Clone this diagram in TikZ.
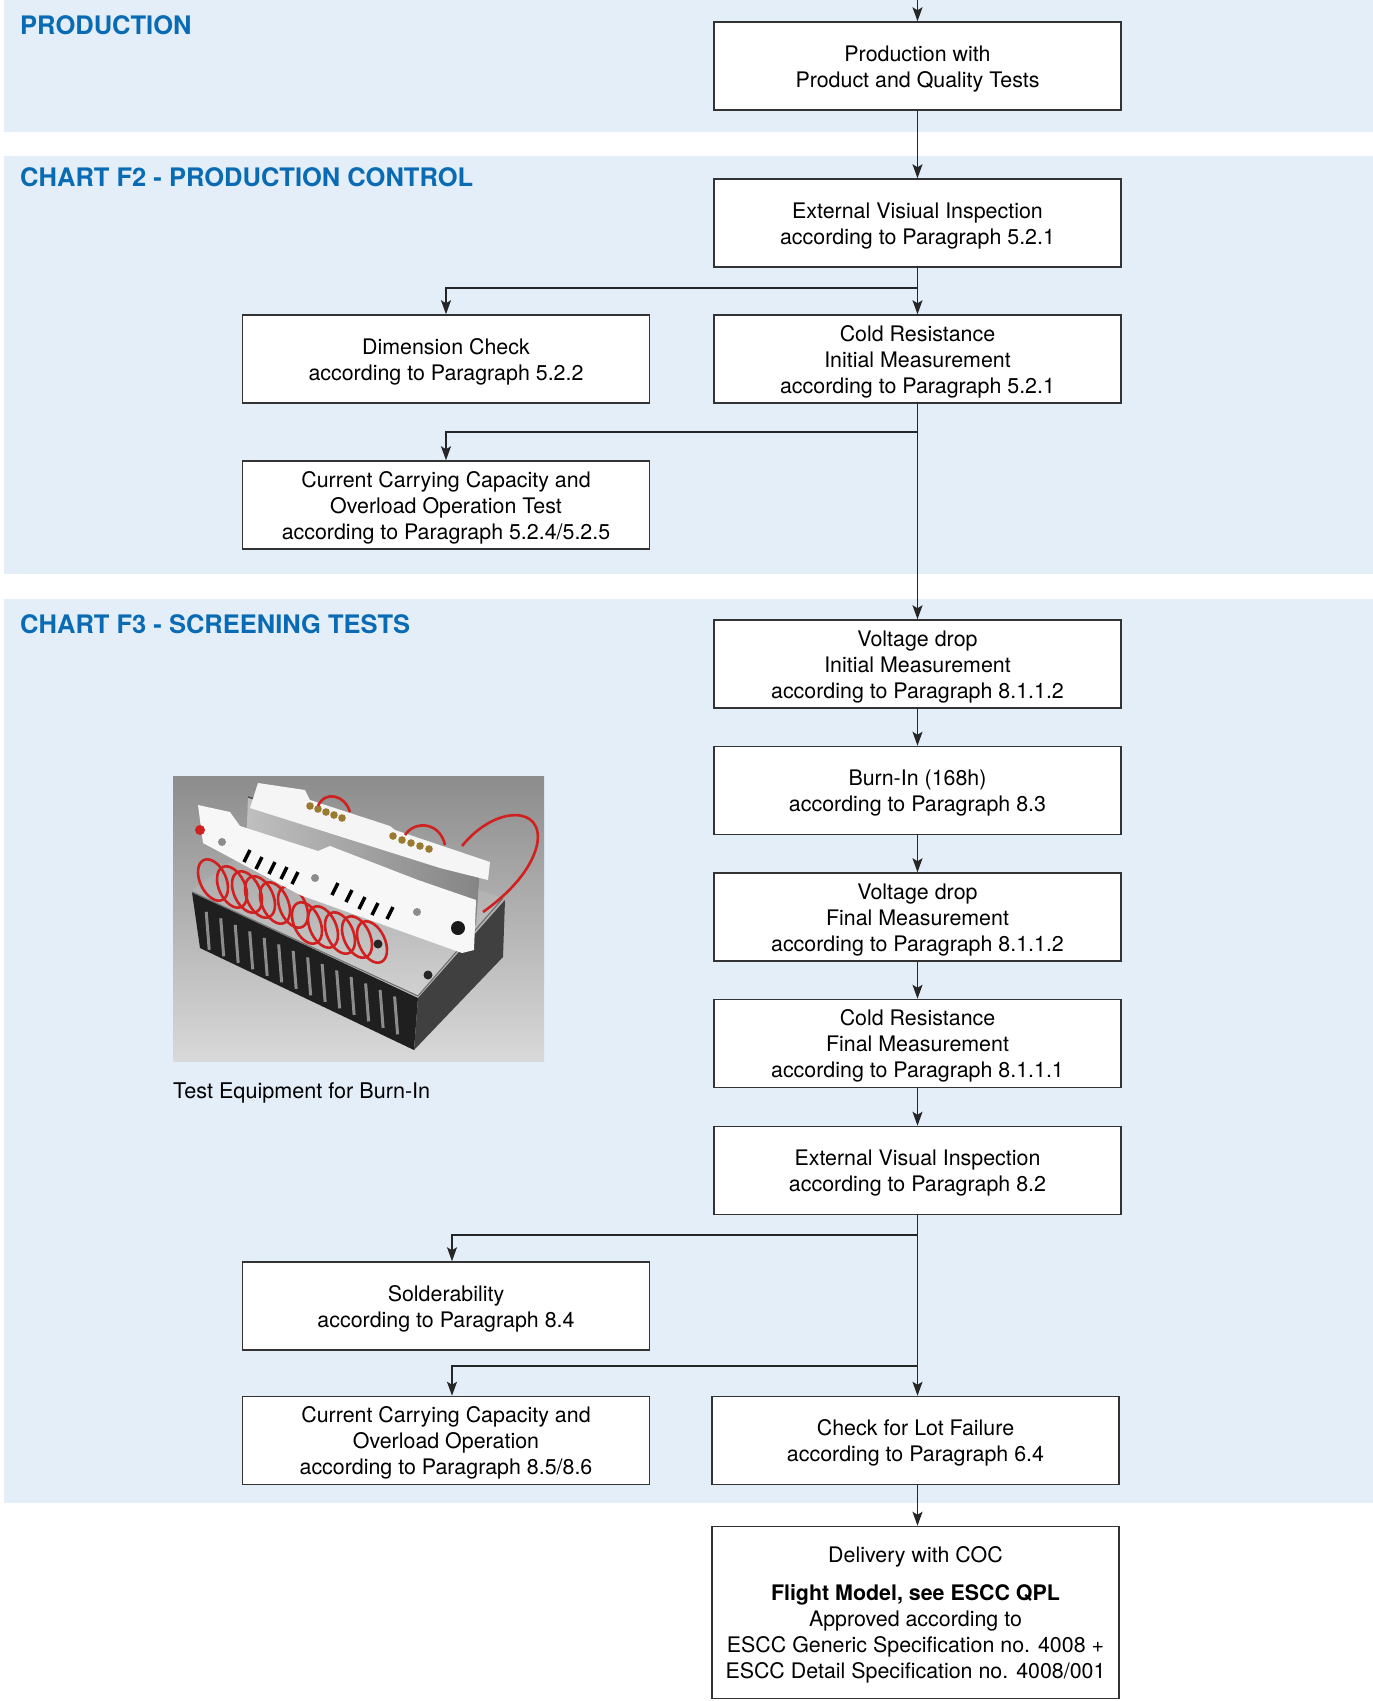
\documentclass[tikz,border=0pt]{standalone}
\usepackage{fontspec}
\setmainfont{TeX Gyre Heros}
\usetikzlibrary{arrows.meta,calc}
\definecolor{band}{HTML}{E4EEF8}
\definecolor{ttl}{HTML}{0A6BB5}
\definecolor{wire}{HTML}{D02020}
\definecolor{brass}{HTML}{9A7A30}
\definecolor{pin}{HTML}{D8B850}
\newcommand{\bt}[1]{\raisebox{-3pt}[\height][\depth]{\begin{tabular}{@{}c@{}}#1\end{tabular}}}
\tikzset{
  stepbox/.style={draw=black!80,line width=1.5pt,fill=white,minimum width=407pt,minimum height=88pt,
    inner sep=0pt,font=\fontsize{21.4}{26}\selectfont},
  arr/.style={draw=black!85,line width=1.4pt,-{Stealth[length=14pt,width=10pt,inset=3pt]}},
  ln/.style={draw=black!85,line width=1.4pt},
  title/.style={anchor=base west,inner sep=0pt,text=ttl,font=\fontsize{25.5}{30}\selectfont\bfseries},
  wr/.style={draw=wire,line width=2.6pt},
}
\begin{document}
\begin{tikzpicture}[x=1pt,y=-1pt]
\useasboundingbox (0,0) rectangle (1373,1701);
% bands
\fill[band] (4,0) rectangle (1373,132);
\fill[band] (4,156) rectangle (1373,574);
\fill[band] (4,599) rectangle (1373,1503);
% titles
\node[title] (t1) at (20,34) {PRODUCTION};
\node[title] (t2) at (20,186) {CHART F2 - PRODUCTION CONTROL};
\node[title] (t3) at (20,633) {CHART F3 - SCREENING TESTS};

% boxes
\node[stepbox] (b1) at (917.5,66) {\bt{Production with\\Product and Quality Tests}};
\node[stepbox] (b2) at (917.5,223) {\bt{External Visiual Inspection\\according to Paragraph 5.2.1}};
\node[stepbox] (b3) at (917.5,359) {\bt{Cold Resistance\\Initial Measurement\\according to Paragraph 5.2.1}};
\node[stepbox] (b4) at (446,359) {\bt{Dimension Check\\according to Paragraph 5.2.2}};
\node[stepbox] (b5) at (446,505) {\bt{Current Carrying Capacity and\\Overload Operation Test\\according to Paragraph 5.2.4/5.2.5}};
\node[stepbox] (b6) at (917.5,664) {\bt{Voltage drop\\Initial Measurement\\according to Paragraph 8.1.1.2}};
\node[stepbox] (b7) at (917.5,790.5) {\bt{Burn-In (168h)\\according to Paragraph 8.3}};
\node[stepbox] (b8) at (917.5,917) {\bt{Voltage drop\\Final Measurement\\according to Paragraph 8.1.1.2}};
\node[stepbox] (b9) at (917.5,1043.5) {\bt{Cold Resistance\\Final Measurement\\according to Paragraph 8.1.1.1}};
\node[stepbox] (b10) at (917.5,1170.5) {\bt{External Visual Inspection\\according to Paragraph 8.2}};
\node[stepbox] (b11) at (446,1306) {\bt{Solderability\\according to Paragraph 8.4}};
\node[stepbox] (b12) at (446,1440.5) {\bt{Current Carrying Capacity and\\Overload Operation\\according to Paragraph 8.5/8.6}};
\node[stepbox] (b13) at (915.5,1440.5) {\bt{Check for Lot Failure\\according to Paragraph 6.4}};
\node[stepbox,minimum height=172pt] (b14) at (915.5,1612.5) {\bt{Delivery with COC\\[12pt]\textbf{Flight Model, see ESCC QPL}\\Approved according to\\ESCC Generic Specification no. 4008 +\\ESCC Detail Specification no. 4008/001}};

% connectors
\coordinate (top) at (917.5,0);
\coordinate (j1) at (917.5,288);
\coordinate (j2) at (917.5,432);
\coordinate (j3) at (917.5,1235);
\coordinate (j4) at (917.5,1366);
\draw[arr] (top) -- (b1.north);
\draw[arr] (b1.south) -- (b2.north);
\draw[ln] (b2.south) -- (j1);
\draw[arr] (j1) -- (b3.north);
\draw[arr] (j1) -| (b4.north);
\draw[ln] (b3.south) -- (j2);
\draw[arr] (j2) -| (b5.north);
\draw[arr] (j2) -- (b6.north);
\draw[arr] (b6.south) -- (b7.north);
\draw[arr] (b7.south) -- (b8.north);
\draw[arr] (b8.south) -- (b9.north);
\draw[arr] (b9.south) -- (b10.north);
\draw[ln] (b10.south) -- (j3);
\draw[arr] (j3) -| ([xshift=6pt]b11.north);
\draw[ln] (j3) -- (j4);
\draw[arr] (j4) -| ([xshift=6pt]b12.north);
\draw[arr] (j4) -- (j4 |- b13.north);
\draw[arr] (j4 |- b13.south) -- (j4 |- b14.north);

% photo
\begin{scope}
\clip (173,776) rectangle (544,1061);
\shade[top color=black!45,bottom color=black!15] (173,776) rectangle (544,1061);
% top plate
\shade[top color=black!38,bottom color=black!18] (192,890) -- (418,996) -- (503,898) -- (285,822) -- cycle;
% tilted sheet
\shade[left color=black!25,right color=black!48] (248,797) -- (480,866) -- (476,925) -- (246,850) -- cycle;
\draw[black!70,line width=1.5pt] (248,797) -- (480,866);
% back white bar
\fill[black!4] (258,783) -- (305,790) -- (310,800) -- (390,826) -- (395,830) -- (490,862) -- (488,880) -- (440,868) -- (250,808) -- cycle;
% brass nuts
\foreach \p in {(310,806),(318,809),(326,812),(334,815),(342,818),(393,836),(402,840),(411,843),(420,846),(429,849)}
  \fill[brass] \p circle (3.8);
\draw[wr] (318,806) .. controls (325,790) and (345,795) .. (350,812);
\draw[wr] (405,835) .. controls (415,820) and (440,822) .. (445,845);
% heatsink front face
\fill[black!88] (192,892) -- (418,998) -- (414,1050) -- (200,948) -- cycle;
\foreach \t in {0.03,0.10,...,0.98}
  \draw[black!45,line width=3pt] ($(203,947)!\t!(410,1040)$) -- ++(-3,-38);
\fill[black!75] (418,998) -- (505,900) -- (503,957) -- (414,1050) -- cycle;
\draw[black!55,line width=1.2pt] (192,892) -- (418,996) -- (503,898);
% holes
\fill[black!85] (378,944) circle (4.5);
\fill[black!85] (428,975) circle (4.5);
% red loops
\foreach \c in {(213,880),(232,887),(247,892),(260,897),(275,903),(293,907),(307,923),(323,927),(340,933),(357,937),(372,942)}
  \draw[wr,rotate around={25:\c}] \c ellipse (13 and 22);
% front white bar
\fill[black!3] (198,805) -- (230,812) -- (240,826) -- (318,851) -- (330,846) -- (418,880) -- (476,900) -- (474,950) -- (462,953) -- (300,895) -- (203,843) -- cycle;
% pins
\foreach \p in {(250,850),(262,857),(275,862),(287,867),(298,872),(338,883),(352,890),(365,897),(378,903),(393,907)}
  \draw[pin,line width=3.5pt] \p -- ++(-6,12);
% screws and terminals
\fill[black!45] (222,842) circle (4);
\fill[black!45] (315,878) circle (4);
\fill[black!45] (417,912) circle (4);
\fill[black!90] (458,928) circle (7);
\fill[wire] (200,830) circle (5);
% big red arc
\draw[wr] (462,846) .. controls (495,805) and (545,805) .. (537,845) .. controls (530,875) and (500,900) .. (483,912);
\end{scope}
\node[anchor=base west,inner sep=0pt,font=\fontsize{21.6}{26}\selectfont] (cap) at (173,1098) {Test Equipment for Burn-In};
\end{tikzpicture}
\end{document}
